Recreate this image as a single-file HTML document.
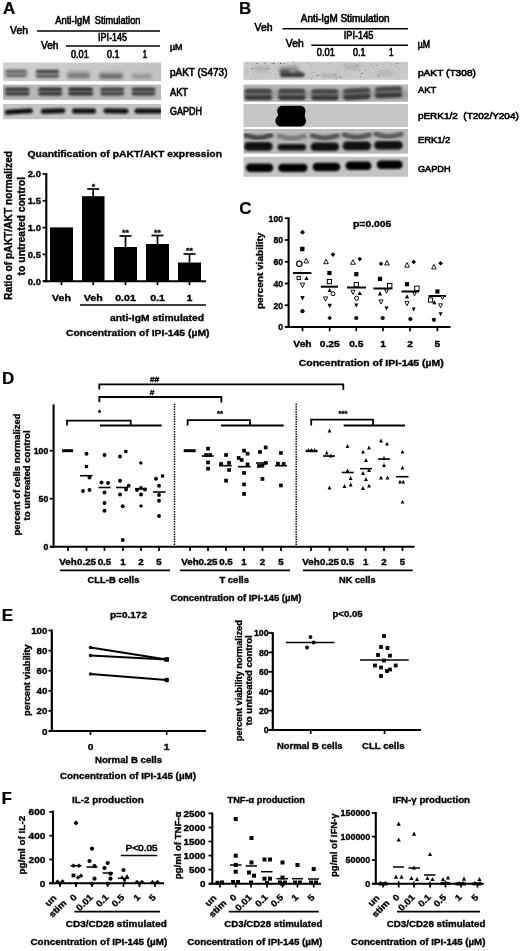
<!DOCTYPE html>
<html lang="en">
<head>
<meta charset="utf-8">
<title>IPI-145 figure</title>
<style>
html,body{margin:0;padding:0;background:#fff;}
body{width:520px;height:951px;overflow:hidden;}
svg{display:block;font-family:"Liberation Sans", Arial, Helvetica, sans-serif;}
</style>
</head>
<body>
<svg width="520" height="951" viewBox="0 0 520 951">
<defs>
<filter id="b1" x="-30%" y="-100%" width="160%" height="300%"><feGaussianBlur stdDeviation="0.9"/></filter>
<filter id="b2" x="-30%" y="-100%" width="160%" height="300%"><feGaussianBlur stdDeviation="1.6"/></filter>
<filter id="b05" x="-30%" y="-100%" width="160%" height="300%"><feGaussianBlur stdDeviation="0.6"/></filter>
<filter id="noise" x="0" y="0" width="100%" height="100%">
<feTurbulence type="fractalNoise" baseFrequency="0.6" numOctaves="1" seed="11" result="n"/>
<feColorMatrix in="n" type="matrix" values="0 0 0 0 0  0 0 0 0 0  0 0 0 0 0  -7 0 0 0 2.35" result="a"/>
<feTurbulence type="fractalNoise" baseFrequency="0.06" numOctaves="2" seed="3" result="m"/>
<feColorMatrix in="m" type="matrix" values="0 0 0 0 0  0 0 0 0 0  0 0 0 0 0  0 4 0 0 -1.2" result="mm"/>
<feComposite in="a" in2="mm" operator="in" result="c"/>
<feComposite in="SourceGraphic" in2="c" operator="in" result="d"/>
<feGaussianBlur in="d" stdDeviation="0.45"/>
</filter>
<linearGradient id="gA1" x1="0" x2="1" y1="0" y2="0"><stop offset="0" stop-color="#d0d0d0"/><stop offset="0.5" stop-color="#c9c9c9"/><stop offset="1" stop-color="#c2c2c2"/></linearGradient>
<clipPath id="cA1"><rect x="3" y="62.5" width="158" height="18.7"/></clipPath>
<clipPath id="cA2"><rect x="3" y="84.6" width="158" height="15.3"/></clipPath>
<clipPath id="cA3"><rect x="3" y="104" width="158" height="15.2"/></clipPath>
<clipPath id="cB1"><rect x="243.5" y="61.8" width="164.5" height="18"/></clipPath>
<clipPath id="cB2"><rect x="243.5" y="84.5" width="164.5" height="17.3"/></clipPath>
<clipPath id="cB3"><rect x="243.5" y="104" width="164.5" height="23"/></clipPath>
<clipPath id="cB4"><rect x="243.5" y="129" width="164.5" height="24.7"/></clipPath>
<clipPath id="cB5"><rect x="243.5" y="156.8" width="164.5" height="20"/></clipPath>
</defs>
<rect x="0" y="0" width="520" height="951" fill="#fff"/>
<g id="panelA">
<text x="3.1" y="13.5" font-size="17" font-weight="bold" stroke="#000" stroke-width="0.2">A</text>
<text x="10.0" y="33.7" font-size="10.20" stroke="#000" stroke-width="0.6" fill="#000" textLength="18.0" lengthAdjust="spacingAndGlyphs">Veh</text>
<text x="55.2" y="24.2" font-size="10.20" stroke="#000" stroke-width="0.6" fill="#000" textLength="35.0" lengthAdjust="spacingAndGlyphs">Anti-IgM</text>
<text x="94.8" y="24.2" font-size="10.20" stroke="#000" stroke-width="0.6" fill="#000" textLength="45.6" lengthAdjust="spacingAndGlyphs">Stimulation</text>
<line x1="37.0" y1="31.0" x2="160.0" y2="31.0" stroke="#000" stroke-width="1.4"/>
<text x="98.0" y="41.2" font-size="10.00" stroke="#000" stroke-width="0.6" fill="#000" textLength="29.0" lengthAdjust="spacingAndGlyphs">IPI-145</text>
<text x="41.0" y="48.7" font-size="10.20" stroke="#000" stroke-width="0.6" fill="#000" textLength="17.5" lengthAdjust="spacingAndGlyphs">Veh</text>
<line x1="66.0" y1="46.0" x2="160.0" y2="46.0" stroke="#000" stroke-width="1.4"/>
<text x="71.0" y="57.8" font-size="10.00" stroke="#000" stroke-width="0.6" fill="#000" textLength="17.7" lengthAdjust="spacingAndGlyphs">0.01</text>
<text x="107.0" y="57.8" font-size="10.00" stroke="#000" stroke-width="0.6" fill="#000" textLength="12.5" lengthAdjust="spacingAndGlyphs">0.1</text>
<text x="142.8" y="57.8" font-size="10.00" stroke="#000" stroke-width="0.6" fill="#000" textLength="4.4" lengthAdjust="spacingAndGlyphs">1</text>
<text x="170.0" y="49.5" font-size="9.80" stroke="#000" stroke-width="0.6" fill="#000" textLength="12.5" lengthAdjust="spacingAndGlyphs">µM</text>
<rect x="3" y="62.5" width="158" height="18.7" fill="url(#gA1)"/>
<g clip-path="url(#cA1)">
<rect x="4.7" y="69.3" width="23.0" height="8.5" rx="4.2" fill="#888" opacity="0.5" filter="url(#b2)"/>
<rect x="5.4" y="69.9" width="21.5" height="2.8" rx="1.4" fill="#484848" opacity="0.8" filter="url(#b1)"/>
<rect x="5.4" y="74.0" width="21.5" height="3.0" rx="1.5" fill="#555" opacity="0.7" filter="url(#b1)"/>
<rect x="35.5" y="69.5" width="24.0" height="9.0" rx="4.5" fill="#808080" opacity="0.55" filter="url(#b2)"/>
<rect x="36.0" y="70.0" width="23.0" height="3.0" rx="1.5" fill="#303030" opacity="0.88" filter="url(#b1)"/>
<rect x="36.0" y="74.4" width="23.0" height="3.2" rx="1.6" fill="#444" opacity="0.8" filter="url(#b1)"/>
<rect x="66.5" y="70.2" width="24.0" height="8.5" rx="4.2" fill="#888" opacity="0.5" filter="url(#b2)"/>
<rect x="67.5" y="73.8" width="22.0" height="4.0" rx="2.0" fill="#555" opacity="0.65" filter="url(#b2)"/>
<rect x="98.5" y="71.6" width="25.0" height="8.0" rx="4.0" fill="#888" opacity="0.5" filter="url(#b2)"/>
<rect x="99.5" y="74.3" width="23.0" height="4.0" rx="2.0" fill="#4a4a4a" opacity="0.7" filter="url(#b2)"/>
<rect x="131.5" y="73.0" width="21.0" height="6.0" rx="3.0" fill="#909090" opacity="0.45" filter="url(#b2)"/>
<rect x="133.0" y="75.3" width="18.0" height="2.6" rx="1.3" fill="#666" opacity="0.45" filter="url(#b2)"/>
</g>
<rect x="3.0" y="84.6" width="158.0" height="15.3" fill="#b7b7b7"/>
<g clip-path="url(#cA2)">
<rect x="4.9" y="87.8" width="24.5" height="8.5" rx="4.2" fill="#666" opacity="0.55" filter="url(#b1)"/>
<rect x="4.9" y="87.7" width="24.5" height="3.0" rx="1.5" fill="#242424" opacity="0.85" filter="url(#b1)"/>
<rect x="4.9" y="92.1" width="24.5" height="3.2" rx="1.6" fill="#303030" opacity="0.85" filter="url(#b1)"/>
<rect x="38.5" y="87.8" width="23.5" height="8.5" rx="4.2" fill="#666" opacity="0.55" filter="url(#b1)"/>
<rect x="38.5" y="87.7" width="23.5" height="3.0" rx="1.5" fill="#242424" opacity="0.92" filter="url(#b1)"/>
<rect x="38.5" y="92.1" width="23.5" height="3.2" rx="1.6" fill="#303030" opacity="0.92" filter="url(#b1)"/>
<rect x="68.5" y="87.8" width="24.5" height="8.5" rx="4.2" fill="#666" opacity="0.55" filter="url(#b1)"/>
<rect x="68.5" y="87.7" width="24.5" height="3.0" rx="1.5" fill="#242424" opacity="0.95" filter="url(#b1)"/>
<rect x="68.5" y="92.1" width="24.5" height="3.2" rx="1.6" fill="#303030" opacity="0.95" filter="url(#b1)"/>
<rect x="100.5" y="87.8" width="23.5" height="8.5" rx="4.2" fill="#666" opacity="0.55" filter="url(#b1)"/>
<rect x="100.5" y="87.7" width="23.5" height="3.0" rx="1.5" fill="#242424" opacity="0.75" filter="url(#b1)"/>
<rect x="100.5" y="92.1" width="23.5" height="3.2" rx="1.6" fill="#303030" opacity="0.75" filter="url(#b1)"/>
<rect x="131.8" y="87.8" width="23.5" height="8.5" rx="4.2" fill="#666" opacity="0.55" filter="url(#b1)"/>
<rect x="131.8" y="87.7" width="23.5" height="3.0" rx="1.5" fill="#242424" opacity="0.8" filter="url(#b1)"/>
<rect x="131.8" y="92.1" width="23.5" height="3.2" rx="1.6" fill="#303030" opacity="0.8" filter="url(#b1)"/>
</g>
<rect x="3.0" y="104.0" width="158.0" height="15.2" fill="#c3c3c3"/>
<g clip-path="url(#cA3)">
<rect x="4.8" y="109.1" width="28.0" height="5.0" rx="2.5" fill="#080808" opacity="0.98" filter="url(#b1)" transform="rotate(-3.5 18.8 111.6)"/>
<rect x="40.8" y="108.5" width="24.5" height="5.0" rx="2.5" fill="#080808" opacity="0.98" filter="url(#b1)" transform="rotate(-2 53.0 111.0)"/>
<rect x="72.0" y="108.5" width="24.0" height="5.0" rx="2.5" fill="#080808" opacity="0.98" filter="url(#b1)"/>
<rect x="103.5" y="108.5" width="25.0" height="5.0" rx="2.5" fill="#080808" opacity="0.98" filter="url(#b1)" transform="rotate(1 116.0 111.0)"/>
<rect x="134.5" y="108.6" width="28.0" height="5.0" rx="2.5" fill="#080808" opacity="0.98" filter="url(#b1)"/>
</g>
<text x="170.0" y="76.0" font-size="10.00" stroke="#000" stroke-width="0.6" fill="#000" textLength="57.5" lengthAdjust="spacingAndGlyphs">pAKT (S473)</text>
<text x="170.0" y="95.8" font-size="10.00" stroke="#000" stroke-width="0.6" fill="#000" textLength="18.0" lengthAdjust="spacingAndGlyphs">AKT</text>
<text x="170.0" y="114.5" font-size="10.00" stroke="#000" stroke-width="0.6" fill="#000" textLength="32.0" lengthAdjust="spacingAndGlyphs">GAPDH</text>
<text x="27.5" y="157.0" font-size="9.66" font-weight="bold" stroke="#000" stroke-width="0.35" fill="#000" textLength="194.5" lengthAdjust="spacingAndGlyphs">Quantification of pAKT/AKT expression</text>
<text transform="translate(12.4,225.4) rotate(-90)" font-size="10.8" font-weight="bold" stroke="#000" stroke-width="0.35" text-anchor="middle" textLength="149.0" lengthAdjust="spacingAndGlyphs">Ratio of pAKT/AKT normalized</text>
<text transform="translate(25.2,226.2) rotate(-90)" font-size="10.8" font-weight="bold" stroke="#000" stroke-width="0.35" text-anchor="middle" textLength="98.5" lengthAdjust="spacingAndGlyphs">to untreated control</text>
<line x1="46.3" y1="173.0" x2="46.3" y2="282.2" stroke="#000" stroke-width="2.1"/>
<line x1="43.0" y1="281.2" x2="206.0" y2="281.2" stroke="#000" stroke-width="2.1"/>
<line x1="42.5" y1="174.0" x2="46.0" y2="174.0" stroke="#000" stroke-width="1.7"/>
<text x="41.0" y="177.3" font-size="8.83" font-weight="bold" stroke="#000" stroke-width="0.35" text-anchor="end" textLength="13.2" lengthAdjust="spacingAndGlyphs">2.0</text>
<line x1="42.5" y1="200.8" x2="46.0" y2="200.8" stroke="#000" stroke-width="1.7"/>
<text x="41.0" y="204.1" font-size="8.83" font-weight="bold" stroke="#000" stroke-width="0.35" text-anchor="end" textLength="13.2" lengthAdjust="spacingAndGlyphs">1.5</text>
<line x1="42.5" y1="227.6" x2="46.0" y2="227.6" stroke="#000" stroke-width="1.7"/>
<text x="41.0" y="230.9" font-size="8.83" font-weight="bold" stroke="#000" stroke-width="0.35" text-anchor="end" textLength="13.2" lengthAdjust="spacingAndGlyphs">1.0</text>
<line x1="42.5" y1="254.4" x2="46.0" y2="254.4" stroke="#000" stroke-width="1.7"/>
<text x="41.0" y="257.7" font-size="8.83" font-weight="bold" stroke="#000" stroke-width="0.35" text-anchor="end" textLength="13.2" lengthAdjust="spacingAndGlyphs">0.5</text>
<line x1="42.5" y1="281.2" x2="46.0" y2="281.2" stroke="#000" stroke-width="1.7"/>
<text x="41.0" y="284.5" font-size="8.83" font-weight="bold" stroke="#000" stroke-width="0.35" text-anchor="end" textLength="13.2" lengthAdjust="spacingAndGlyphs">0.0</text>
<rect x="50.0" y="227.4" width="23.0" height="53.8" fill="#000"/>
<line x1="61.5" y1="281.2" x2="61.5" y2="285.2" stroke="#000" stroke-width="1.7"/>
<rect x="82.0" y="196.2" width="22.5" height="85.0" fill="#000"/>
<line x1="93.2" y1="281.2" x2="93.2" y2="285.2" stroke="#000" stroke-width="1.7"/>
<line x1="93.2" y1="189.0" x2="93.2" y2="196.2" stroke="#000" stroke-width="1.7"/>
<line x1="87.2" y1="189.0" x2="99.2" y2="189.0" stroke="#000" stroke-width="1.7"/>
<rect x="114.0" y="247.0" width="23.0" height="34.2" fill="#000"/>
<line x1="125.5" y1="281.2" x2="125.5" y2="285.2" stroke="#000" stroke-width="1.7"/>
<line x1="125.5" y1="236.0" x2="125.5" y2="247.0" stroke="#000" stroke-width="1.7"/>
<line x1="119.5" y1="236.0" x2="131.5" y2="236.0" stroke="#000" stroke-width="1.7"/>
<rect x="146.0" y="244.0" width="23.0" height="37.2" fill="#000"/>
<line x1="157.5" y1="281.2" x2="157.5" y2="285.2" stroke="#000" stroke-width="1.7"/>
<line x1="157.5" y1="235.5" x2="157.5" y2="244.0" stroke="#000" stroke-width="1.7"/>
<line x1="151.5" y1="235.5" x2="163.5" y2="235.5" stroke="#000" stroke-width="1.7"/>
<rect x="178.0" y="262.5" width="23.0" height="18.7" fill="#000"/>
<line x1="189.5" y1="281.2" x2="189.5" y2="285.2" stroke="#000" stroke-width="1.7"/>
<line x1="189.5" y1="254.0" x2="189.5" y2="262.5" stroke="#000" stroke-width="1.7"/>
<line x1="183.5" y1="254.0" x2="195.5" y2="254.0" stroke="#000" stroke-width="1.7"/>
<text x="93.5" y="189.3" font-size="7.82" font-weight="bold" stroke="#000" stroke-width="0.35" text-anchor="middle" textLength="3.4" lengthAdjust="spacingAndGlyphs">*</text>
<text x="125.5" y="234.8" font-size="7.82" font-weight="bold" stroke="#000" stroke-width="0.35" text-anchor="middle" textLength="6.8" lengthAdjust="spacingAndGlyphs">**</text>
<text x="157.5" y="234.8" font-size="7.82" font-weight="bold" stroke="#000" stroke-width="0.35" text-anchor="middle" textLength="6.8" lengthAdjust="spacingAndGlyphs">**</text>
<text x="189.5" y="252.8" font-size="7.82" font-weight="bold" stroke="#000" stroke-width="0.35" text-anchor="middle" textLength="6.8" lengthAdjust="spacingAndGlyphs">**</text>
<text x="61.5" y="300.8" font-size="9.48" font-weight="bold" stroke="#000" stroke-width="0.35" text-anchor="middle" textLength="18.9" lengthAdjust="spacingAndGlyphs">Veh</text>
<text x="93.2" y="300.8" font-size="9.48" font-weight="bold" stroke="#000" stroke-width="0.35" text-anchor="middle" textLength="18.9" lengthAdjust="spacingAndGlyphs">Veh</text>
<text x="125.5" y="300.8" font-size="9.48" font-weight="bold" stroke="#000" stroke-width="0.35" text-anchor="middle" textLength="20.6" lengthAdjust="spacingAndGlyphs">0.01</text>
<text x="157.5" y="300.8" font-size="9.48" font-weight="bold" stroke="#000" stroke-width="0.35" text-anchor="middle" textLength="14.7" lengthAdjust="spacingAndGlyphs">0.1</text>
<text x="189.5" y="300.8" font-size="9.48" font-weight="bold" stroke="#000" stroke-width="0.35" text-anchor="middle" textLength="5.9" lengthAdjust="spacingAndGlyphs">1</text>
<line x1="80.0" y1="305.0" x2="206.0" y2="305.0" stroke="#000" stroke-width="1.7"/>
<text x="110.0" y="320.8" font-size="9.48" font-weight="bold" stroke="#000" stroke-width="0.35" fill="#000" textLength="94.0" lengthAdjust="spacingAndGlyphs">anti-IgM stimulated</text>
<text x="66.0" y="336.3" font-size="9.48" font-weight="bold" stroke="#000" stroke-width="0.35" fill="#000" textLength="143.5" lengthAdjust="spacingAndGlyphs">Concentration of IPI-145 (µM)</text>
</g>
<g id="panelB">
<text x="239.0" y="13.7" font-size="17" font-weight="bold" stroke="#000" stroke-width="0.2">B</text>
<text x="254.6" y="31.2" font-size="10.20" stroke="#000" stroke-width="0.6" fill="#000" textLength="17.9" lengthAdjust="spacingAndGlyphs">Veh</text>
<text x="300.8" y="21.9" font-size="10.30" stroke="#000" stroke-width="0.6" fill="#000" textLength="88.7" lengthAdjust="spacingAndGlyphs">Anti-IgM Stimulation</text>
<line x1="282.5" y1="28.8" x2="408.0" y2="28.8" stroke="#000" stroke-width="1.4"/>
<text x="343.7" y="39.4" font-size="10.30" stroke="#000" stroke-width="0.6" fill="#000" textLength="29.8" lengthAdjust="spacingAndGlyphs">IPI-145</text>
<text x="285.8" y="46.9" font-size="10.20" stroke="#000" stroke-width="0.6" fill="#000" textLength="17.9" lengthAdjust="spacingAndGlyphs">Veh</text>
<line x1="311.3" y1="45.3" x2="408.0" y2="45.3" stroke="#000" stroke-width="1.4"/>
<text x="316.8" y="55.6" font-size="10.00" stroke="#000" stroke-width="0.6" fill="#000" textLength="18.0" lengthAdjust="spacingAndGlyphs">0.01</text>
<text x="353.0" y="55.6" font-size="10.00" stroke="#000" stroke-width="0.6" fill="#000" textLength="12.5" lengthAdjust="spacingAndGlyphs">0.1</text>
<text x="389.0" y="55.6" font-size="10.00" stroke="#000" stroke-width="0.6" fill="#000" textLength="4.5" lengthAdjust="spacingAndGlyphs">1</text>
<text x="417.7" y="48.3" font-size="10.00" stroke="#000" stroke-width="0.6" fill="#000" textLength="12.3" lengthAdjust="spacingAndGlyphs">µM</text>
<rect x="243.5" y="61.8" width="164.5" height="18.0" fill="#c9c9c9"/>
<g clip-path="url(#cB1)">
<rect x="243" y="61" width="165" height="19" fill="#222" filter="url(#noise)" opacity="0.85"/>
<rect x="279.0" y="66.5" width="20.0" height="8.0" rx="4.0" fill="#555" opacity="0.5" filter="url(#b2)"/>
<rect x="280.2" y="72.7" width="24.5" height="4.6" rx="2.3" fill="#262626" opacity="0.85" filter="url(#b1)"/>
<rect x="280.0" y="69.8" width="10.0" height="4.0" rx="2.0" fill="#333" opacity="0.6" filter="url(#b1)"/>
<rect x="295.5" y="71.1" width="7.0" height="3.0" rx="1.5" fill="#333" opacity="0.5" filter="url(#b1)"/>
<rect x="321.0" y="74.0" width="18.0" height="3.0" rx="1.5" fill="#777" opacity="0.35" filter="url(#b2)"/>
<rect x="255.0" y="66.0" width="14.0" height="6.0" rx="3.0" fill="#888" opacity="0.3" filter="url(#b2)"/>
<rect x="344.0" y="64.0" width="16.0" height="6.0" rx="3.0" fill="#888" opacity="0.3" filter="url(#b2)"/>
<rect x="377.0" y="70.0" width="16.0" height="6.0" rx="3.0" fill="#888" opacity="0.25" filter="url(#b2)"/>
</g>
<rect x="243.5" y="84.5" width="164.5" height="17.3" fill="#b6b6b6"/>
<g clip-path="url(#cB2)">
<rect x="240.0" y="89.9" width="170.0" height="9.0" rx="4.5" fill="#777" opacity="0.35" filter="url(#b2)"/>
<rect x="244.4" y="88.8" width="28.0" height="11.0" rx="5.5" fill="#606060" opacity="0.6" filter="url(#b1)"/>
<rect x="245.1" y="89.1" width="26.5" height="4.2" rx="2.1" fill="#383838" opacity="0.82" filter="url(#b1)"/>
<rect x="244.9" y="95.2" width="27.0" height="4.8" rx="2.4" fill="#2e2e2e" opacity="0.86" filter="url(#b1)"/>
<rect x="277.9" y="88.8" width="28.0" height="11.0" rx="5.5" fill="#606060" opacity="0.6" filter="url(#b1)"/>
<rect x="278.6" y="89.1" width="26.5" height="4.2" rx="2.1" fill="#383838" opacity="0.82" filter="url(#b1)"/>
<rect x="278.4" y="95.2" width="27.0" height="4.8" rx="2.4" fill="#2e2e2e" opacity="0.86" filter="url(#b1)"/>
<rect x="310.8" y="89.1" width="28.0" height="11.0" rx="5.5" fill="#606060" opacity="0.6" filter="url(#b1)"/>
<rect x="311.6" y="89.4" width="26.5" height="4.2" rx="2.1" fill="#383838" opacity="0.82" filter="url(#b1)"/>
<rect x="311.3" y="95.5" width="27.0" height="4.8" rx="2.4" fill="#2e2e2e" opacity="0.86" filter="url(#b1)"/>
<rect x="342.8" y="88.2" width="28.0" height="11.0" rx="5.5" fill="#606060" opacity="0.6" filter="url(#b1)" transform="rotate(-3 356.8 93.7)"/>
<rect x="343.6" y="88.5" width="26.5" height="4.2" rx="2.1" fill="#383838" opacity="0.82" filter="url(#b1)" transform="rotate(-3 356.8 90.6)"/>
<rect x="343.3" y="94.6" width="27.0" height="4.8" rx="2.4" fill="#2e2e2e" opacity="0.86" filter="url(#b1)" transform="rotate(-3 356.8 97.0)"/>
<rect x="374.5" y="86.6" width="28.0" height="11.0" rx="5.5" fill="#606060" opacity="0.6" filter="url(#b1)" transform="rotate(-2 388.5 92.1)"/>
<rect x="375.2" y="86.9" width="26.5" height="4.2" rx="2.1" fill="#383838" opacity="0.82" filter="url(#b1)" transform="rotate(-2 388.5 89.0)"/>
<rect x="375.0" y="93.0" width="27.0" height="4.8" rx="2.4" fill="#2e2e2e" opacity="0.86" filter="url(#b1)" transform="rotate(-2 388.5 95.4)"/>
</g>
<rect x="243.5" y="104.0" width="164.5" height="23.0" fill="#c6c6c6"/>
<g clip-path="url(#cB3)">
<rect x="277.2" y="105.8" width="28.2" height="10.8" rx="5.0" fill="#050505" filter="url(#b05)"/>
<rect x="275.4" y="115.0" width="30.6" height="11.6" rx="5.6" fill="#050505" filter="url(#b05)"/>
<rect x="278.0" y="110" width="26.8" height="12" fill="#050505" filter="url(#b05)"/>
</g>
<rect x="243.5" y="129.0" width="164.5" height="24.7" fill="#b9b9b9"/>
<g clip-path="url(#cB4)">
<path d="M245.9,135.4 Q258.4,140.0 270.9,135.4" stroke="#3c3c3c" stroke-width="5.0" stroke-linecap="round" fill="none" opacity="0.9" filter="url(#b1)"/>
<rect x="244.1" y="142.1" width="28.5" height="8.6" rx="4.3" fill="#080808" opacity="0.98" filter="url(#b1)"/>
<path d="M279.4,136.2 Q291.9,140.8 304.4,136.2" stroke="#3c3c3c" stroke-width="5.0" stroke-linecap="round" fill="none" opacity="0.5" filter="url(#b1)"/>
<rect x="277.6" y="143.9" width="28.5" height="6.6" rx="3.3" fill="#080808" opacity="0.98" filter="url(#b1)"/>
<path d="M312.3,135.7 Q324.8,140.3 337.3,135.7" stroke="#3c3c3c" stroke-width="5.0" stroke-linecap="round" fill="none" opacity="0.8" filter="url(#b1)"/>
<rect x="310.6" y="142.4" width="28.5" height="8.6" rx="4.3" fill="#080808" opacity="0.98" filter="url(#b1)"/>
<path d="M344.3,134.9 Q356.8,139.5 369.3,134.9" stroke="#3c3c3c" stroke-width="5.0" stroke-linecap="round" fill="none" opacity="0.8" filter="url(#b1)"/>
<rect x="342.6" y="141.6" width="28.5" height="8.6" rx="4.3" fill="#080808" opacity="0.98" filter="url(#b1)"/>
<path d="M376.0,134.2 Q388.5,138.8 401.0,134.2" stroke="#3c3c3c" stroke-width="5.0" stroke-linecap="round" fill="none" opacity="0.75" filter="url(#b1)"/>
<rect x="374.2" y="140.9" width="28.5" height="8.6" rx="4.3" fill="#080808" opacity="0.98" filter="url(#b1)"/>
</g>
<rect x="243.5" y="156.8" width="164.5" height="20.0" fill="#c4c4c4"/>
<g clip-path="url(#cB5)">
<rect x="245.8" y="163.5" width="27.5" height="8.4" rx="4.2" fill="#050505" opacity="0.99" filter="url(#b1)"/>
<rect x="278.1" y="163.7" width="29.5" height="8.4" rx="4.2" fill="#050505" opacity="0.99" filter="url(#b1)"/>
<rect x="312.6" y="162.8" width="27.7" height="8.4" rx="4.2" fill="#050505" opacity="0.99" filter="url(#b1)"/>
<rect x="345.5" y="161.5" width="26.0" height="8.4" rx="4.2" fill="#050505" opacity="0.99" filter="url(#b1)"/>
<rect x="376.7" y="160.5" width="26.0" height="8.4" rx="4.2" fill="#050505" opacity="0.99" filter="url(#b1)"/>
</g>
<text x="417.9" y="76.0" font-size="9.60" stroke="#000" stroke-width="0.6" fill="#000" textLength="58.1" lengthAdjust="spacingAndGlyphs">pAKT (T308)</text>
<text x="417.9" y="93.3" font-size="9.60" stroke="#000" stroke-width="0.6" fill="#000" textLength="18.4" lengthAdjust="spacingAndGlyphs">AKT</text>
<text x="417.9" y="119.4" font-size="9.60" stroke="#000" stroke-width="0.6" fill="#000" textLength="100.9" lengthAdjust="spacingAndGlyphs" style="white-space:pre">pERK1/2  (T202/Y204)</text>
<text x="417.9" y="143.2" font-size="9.60" stroke="#000" stroke-width="0.6" fill="#000" textLength="32.3" lengthAdjust="spacingAndGlyphs">ERK1/2</text>
<text x="417.9" y="171.5" font-size="9.60" stroke="#000" stroke-width="0.6" fill="#000" textLength="32.7" lengthAdjust="spacingAndGlyphs">GAPDH</text>
</g>
<g id="panelC">
<text x="239.2" y="214.3" font-size="17" font-weight="bold" stroke="#000" stroke-width="0.2">C</text>
<text transform="translate(262.6,270.8) rotate(-90)" font-size="9.2" font-weight="bold" stroke="#000" stroke-width="0.35" text-anchor="middle" textLength="76.5" lengthAdjust="spacingAndGlyphs">percent viability</text>
<line x1="288.6" y1="217.3" x2="288.6" y2="328.0" stroke="#000" stroke-width="2.1"/>
<line x1="285.5" y1="327.0" x2="450.5" y2="327.0" stroke="#000" stroke-width="2.1"/>
<line x1="284.8" y1="327.0" x2="288.5" y2="327.0" stroke="#000" stroke-width="1.7"/>
<text x="283.0" y="330.3" font-size="8.74" font-weight="bold" stroke="#000" stroke-width="0.35" text-anchor="end" textLength="4.8" lengthAdjust="spacingAndGlyphs">0</text>
<line x1="284.8" y1="305.2" x2="288.5" y2="305.2" stroke="#000" stroke-width="1.7"/>
<text x="283.0" y="308.6" font-size="8.74" font-weight="bold" stroke="#000" stroke-width="0.35" text-anchor="end" textLength="9.6" lengthAdjust="spacingAndGlyphs">20</text>
<line x1="284.8" y1="283.5" x2="288.5" y2="283.5" stroke="#000" stroke-width="1.7"/>
<text x="283.0" y="286.8" font-size="8.74" font-weight="bold" stroke="#000" stroke-width="0.35" text-anchor="end" textLength="9.6" lengthAdjust="spacingAndGlyphs">40</text>
<line x1="284.8" y1="261.8" x2="288.5" y2="261.8" stroke="#000" stroke-width="1.7"/>
<text x="283.0" y="265.1" font-size="8.74" font-weight="bold" stroke="#000" stroke-width="0.35" text-anchor="end" textLength="9.6" lengthAdjust="spacingAndGlyphs">60</text>
<line x1="284.8" y1="240.0" x2="288.5" y2="240.0" stroke="#000" stroke-width="1.7"/>
<text x="283.0" y="243.3" font-size="8.74" font-weight="bold" stroke="#000" stroke-width="0.35" text-anchor="end" textLength="9.6" lengthAdjust="spacingAndGlyphs">80</text>
<line x1="284.8" y1="218.2" x2="288.5" y2="218.2" stroke="#000" stroke-width="1.7"/>
<text x="283.0" y="221.6" font-size="8.74" font-weight="bold" stroke="#000" stroke-width="0.35" text-anchor="end" textLength="14.4" lengthAdjust="spacingAndGlyphs">100</text>
<line x1="302.5" y1="327.0" x2="302.5" y2="331.2" stroke="#000" stroke-width="1.7"/>
<text x="302.5" y="346.7" font-size="9.20" font-weight="bold" stroke="#000" stroke-width="0.35" text-anchor="middle" textLength="18.3" lengthAdjust="spacingAndGlyphs">Veh</text>
<line x1="329.7" y1="327.0" x2="329.7" y2="331.2" stroke="#000" stroke-width="1.7"/>
<text x="329.7" y="346.7" font-size="9.20" font-weight="bold" stroke="#000" stroke-width="0.35" text-anchor="middle" textLength="20.0" lengthAdjust="spacingAndGlyphs">0.25</text>
<line x1="356.3" y1="327.0" x2="356.3" y2="331.2" stroke="#000" stroke-width="1.7"/>
<text x="356.3" y="346.7" font-size="9.20" font-weight="bold" stroke="#000" stroke-width="0.35" text-anchor="middle" textLength="14.3" lengthAdjust="spacingAndGlyphs">0.5</text>
<line x1="383.0" y1="327.0" x2="383.0" y2="331.2" stroke="#000" stroke-width="1.7"/>
<text x="383.0" y="346.7" font-size="9.20" font-weight="bold" stroke="#000" stroke-width="0.35" text-anchor="middle" textLength="5.7" lengthAdjust="spacingAndGlyphs">1</text>
<line x1="410.0" y1="327.0" x2="410.0" y2="331.2" stroke="#000" stroke-width="1.7"/>
<text x="410.0" y="346.7" font-size="9.20" font-weight="bold" stroke="#000" stroke-width="0.35" text-anchor="middle" textLength="5.7" lengthAdjust="spacingAndGlyphs">2</text>
<line x1="437.4" y1="327.0" x2="437.4" y2="331.2" stroke="#000" stroke-width="1.7"/>
<text x="437.4" y="346.7" font-size="9.20" font-weight="bold" stroke="#000" stroke-width="0.35" text-anchor="middle" textLength="5.7" lengthAdjust="spacingAndGlyphs">5</text>
<text x="298.7" y="365.6" font-size="9.20" font-weight="bold" stroke="#000" stroke-width="0.35" fill="#000" textLength="145.1" lengthAdjust="spacingAndGlyphs">Concentration of IPI-145 (µM)</text>
<text x="353.0" y="227.0" font-size="9.20" font-weight="bold" stroke="#000" stroke-width="0.35" fill="#000" textLength="38.3" lengthAdjust="spacingAndGlyphs">p=0.005</text>
<line x1="293.0" y1="273.0" x2="311.4" y2="273.0" stroke="#000" stroke-width="2.0"/>
<line x1="320.8" y1="286.7" x2="338.0" y2="286.7" stroke="#000" stroke-width="2.0"/>
<line x1="347.0" y1="287.5" x2="366.0" y2="287.5" stroke="#000" stroke-width="2.0"/>
<line x1="373.5" y1="288.5" x2="392.4" y2="288.5" stroke="#000" stroke-width="2.0"/>
<line x1="401.5" y1="291.5" x2="419.2" y2="291.5" stroke="#000" stroke-width="2.0"/>
<line x1="428.5" y1="296.0" x2="446.0" y2="296.0" stroke="#000" stroke-width="2.0"/>
<polygon points="302.5,229.8 305.0,232.3 302.5,234.8 300.0,232.3" fill="#000"/>
<rect x="300.1" y="246.8" width="4.4" height="4.4" fill="#000"/>
<polygon points="306.2,258.3 308.5,262.9 303.9,262.9" fill="#fff" stroke="#000" stroke-width="0.9"/>
<circle cx="299.3" cy="263.8" r="2.7" fill="#fff" stroke="#000" stroke-width="1.1"/>
<rect x="297.1" y="276.4" width="3.2" height="3.2" fill="#fff" stroke="#000" stroke-width="1.0"/>
<polygon points="306.5,275.9 308.6,280.1 304.4,280.1" fill="#000"/>
<polygon points="302.5,287.5 304.7,283.1 300.3,283.1" fill="#fff" stroke="#000" stroke-width="0.9"/>
<polygon points="302.5,300.5 304.7,296.1 300.3,296.1" fill="#000"/>
<circle cx="302.5" cy="311.2" r="2.1" fill="#000"/>
<polygon points="333.0,252.3 335.3,254.6 333.0,256.9 330.7,254.6" fill="#000"/>
<polygon points="326.0,259.1 328.3,263.7 323.7,263.7" fill="#fff" stroke="#000" stroke-width="0.9"/>
<rect x="327.3" y="270.9" width="4.2" height="4.2" fill="#000"/>
<rect x="327.3" y="279.5" width="4.2" height="4.2" fill="#fff" stroke="#000" stroke-width="1.0"/>
<polygon points="329.7,287.9 331.8,292.1 327.6,292.1" fill="#000"/>
<circle cx="333.0" cy="293.7" r="2.0" fill="#fff" stroke="#000" stroke-width="1.0"/>
<polygon points="325.6,301.1 327.7,296.9 323.5,296.9" fill="#fff" stroke="#000" stroke-width="0.9"/>
<polygon points="329.7,308.2 331.9,303.8 327.5,303.8" fill="#000"/>
<polygon points="329.7,315.7 332.0,318.0 329.7,320.3 327.4,318.0" fill="#000"/>
<polygon points="359.8,256.7 362.1,259.0 359.8,261.3 357.5,259.0" fill="#000"/>
<polygon points="353.0,259.7 355.3,264.3 350.7,264.3" fill="#fff" stroke="#000" stroke-width="0.9"/>
<rect x="354.2" y="272.1" width="4.2" height="4.2" fill="#000"/>
<rect x="354.2" y="282.5" width="4.2" height="4.2" fill="#fff" stroke="#000" stroke-width="1.0"/>
<polygon points="353.0,294.4 355.1,290.2 350.9,290.2" fill="#fff" stroke="#000" stroke-width="0.9"/>
<polygon points="359.8,290.9 361.9,295.1 357.7,295.1" fill="#000"/>
<circle cx="356.6" cy="298.2" r="2.0" fill="#fff" stroke="#000" stroke-width="1.0"/>
<polygon points="356.3,307.6 358.4,303.4 354.2,303.4" fill="#000"/>
<circle cx="356.3" cy="318.0" r="2.1" fill="#000"/>
<polygon points="381.0,261.5 383.3,263.8 381.0,266.1 378.7,263.8" fill="#000"/>
<polygon points="387.0,260.4 389.3,265.0 384.7,265.0" fill="#fff" stroke="#000" stroke-width="0.9"/>
<rect x="377.9" y="276.8" width="4.2" height="4.2" fill="#000"/>
<rect x="387.5" y="283.5" width="4.4" height="4.4" fill="#fff" stroke="#000" stroke-width="1.0"/>
<polygon points="380.0,291.3 382.1,295.5 377.9,295.5" fill="#000"/>
<polygon points="386.5,293.3 388.3,289.7 384.7,289.7" fill="#fff" stroke="#000" stroke-width="0.9"/>
<polygon points="381.0,304.1 383.1,299.9 378.9,299.9" fill="#fff" stroke="#000" stroke-width="0.9"/>
<polygon points="386.5,310.5 388.5,306.5 384.5,306.5" fill="#000"/>
<circle cx="382.7" cy="318.0" r="2.1" fill="#000"/>
<polygon points="407.0,262.6 409.3,267.2 404.7,267.2" fill="#fff" stroke="#000" stroke-width="0.9"/>
<polygon points="413.7,259.6 416.0,261.9 413.7,264.2 411.4,261.9" fill="#000"/>
<rect x="404.9" y="282.1" width="4.2" height="4.2" fill="#000"/>
<rect x="414.7" y="286.1" width="4.4" height="4.4" fill="#fff" stroke="#000" stroke-width="1.0"/>
<polygon points="407.0,294.3 409.1,298.5 404.9,298.5" fill="#000"/>
<polygon points="414.5,295.9 416.2,292.5 412.8,292.5" fill="#fff" stroke="#000" stroke-width="0.9"/>
<polygon points="407.0,305.8 409.1,301.6 404.9,301.6" fill="#fff" stroke="#000" stroke-width="0.9"/>
<polygon points="413.7,311.6 415.7,307.6 411.7,307.6" fill="#000"/>
<circle cx="410.4" cy="319.0" r="2.1" fill="#000"/>
<polygon points="433.9,264.4 436.2,269.0 431.6,269.0" fill="#fff" stroke="#000" stroke-width="0.9"/>
<polygon points="440.6,260.9 442.9,263.2 440.6,265.5 438.3,263.2" fill="#000"/>
<rect x="435.3" y="289.4" width="4.2" height="4.2" fill="#000"/>
<rect x="428.5" y="297.9" width="4.2" height="4.2" fill="#fff" stroke="#000" stroke-width="1.0"/>
<polygon points="434.4,300.3 436.4,304.3 432.4,304.3" fill="#000"/>
<polygon points="442.5,299.4 444.2,296.0 440.8,296.0" fill="#fff" stroke="#000" stroke-width="0.9"/>
<polygon points="440.6,307.8 442.6,303.8 438.6,303.8" fill="#fff" stroke="#000" stroke-width="0.9"/>
<polygon points="440.6,316.2 442.6,312.2 438.6,312.2" fill="#000"/>
<circle cx="433.9" cy="319.8" r="2.1" fill="#000"/>
</g>
<g id="panelD">
<text x="1.9" y="384.1" font-size="17" font-weight="bold" stroke="#000" stroke-width="0.2">D</text>
<text transform="translate(19.9,474.5) rotate(-90)" font-size="8.7" font-weight="bold" stroke="#000" stroke-width="0.35" text-anchor="middle" textLength="122.0" lengthAdjust="spacingAndGlyphs">percent of cells normalized</text>
<text transform="translate(30.3,475.4) rotate(-90)" font-size="8.7" font-weight="bold" stroke="#000" stroke-width="0.35" text-anchor="middle" textLength="90.0" lengthAdjust="spacingAndGlyphs">to untreated control</text>
<line x1="53.6" y1="404.5" x2="53.6" y2="547.7" stroke="#000" stroke-width="2.1"/>
<line x1="50.0" y1="546.7" x2="414.6" y2="546.7" stroke="#000" stroke-width="2.0"/>
<line x1="49.8" y1="450.7" x2="53.6" y2="450.7" stroke="#000" stroke-width="1.7"/>
<text x="48.3" y="453.9" font-size="8.83" font-weight="bold" stroke="#000" stroke-width="0.35" text-anchor="end" textLength="14.6" lengthAdjust="spacingAndGlyphs">100</text>
<line x1="49.8" y1="498.7" x2="53.6" y2="498.7" stroke="#000" stroke-width="1.7"/>
<text x="48.3" y="501.9" font-size="8.83" font-weight="bold" stroke="#000" stroke-width="0.35" text-anchor="end" textLength="9.7" lengthAdjust="spacingAndGlyphs">50</text>
<line x1="49.8" y1="546.7" x2="53.6" y2="546.7" stroke="#000" stroke-width="1.7"/>
<text x="48.3" y="549.9" font-size="8.83" font-weight="bold" stroke="#000" stroke-width="0.35" text-anchor="end" textLength="4.9" lengthAdjust="spacingAndGlyphs">0</text>
<line x1="68.0" y1="546.7" x2="68.0" y2="551.0" stroke="#000" stroke-width="1.7"/>
<text x="68.0" y="564.6" font-size="8.74" font-weight="bold" stroke="#000" stroke-width="0.35" text-anchor="middle" textLength="17.4" lengthAdjust="spacingAndGlyphs">Veh</text>
<line x1="86.5" y1="546.7" x2="86.5" y2="551.0" stroke="#000" stroke-width="1.7"/>
<text x="86.5" y="564.6" font-size="8.74" font-weight="bold" stroke="#000" stroke-width="0.35" text-anchor="middle" textLength="19.0" lengthAdjust="spacingAndGlyphs">0.25</text>
<line x1="104.5" y1="546.7" x2="104.5" y2="551.0" stroke="#000" stroke-width="1.7"/>
<text x="104.5" y="564.6" font-size="8.74" font-weight="bold" stroke="#000" stroke-width="0.35" text-anchor="middle" textLength="13.6" lengthAdjust="spacingAndGlyphs">0.5</text>
<line x1="123.0" y1="546.7" x2="123.0" y2="551.0" stroke="#000" stroke-width="1.7"/>
<text x="123.0" y="564.6" font-size="8.74" font-weight="bold" stroke="#000" stroke-width="0.35" text-anchor="middle" textLength="5.4" lengthAdjust="spacingAndGlyphs">1</text>
<line x1="141.0" y1="546.7" x2="141.0" y2="551.0" stroke="#000" stroke-width="1.7"/>
<text x="141.0" y="564.6" font-size="8.74" font-weight="bold" stroke="#000" stroke-width="0.35" text-anchor="middle" textLength="5.4" lengthAdjust="spacingAndGlyphs">2</text>
<line x1="159.0" y1="546.7" x2="159.0" y2="551.0" stroke="#000" stroke-width="1.7"/>
<text x="159.0" y="564.6" font-size="8.74" font-weight="bold" stroke="#000" stroke-width="0.35" text-anchor="middle" textLength="5.4" lengthAdjust="spacingAndGlyphs">5</text>
<line x1="190.0" y1="546.7" x2="190.0" y2="551.0" stroke="#000" stroke-width="1.7"/>
<text x="190.0" y="564.6" font-size="8.74" font-weight="bold" stroke="#000" stroke-width="0.35" text-anchor="middle" textLength="17.4" lengthAdjust="spacingAndGlyphs">Veh</text>
<line x1="208.0" y1="546.7" x2="208.0" y2="551.0" stroke="#000" stroke-width="1.7"/>
<text x="208.0" y="564.6" font-size="8.74" font-weight="bold" stroke="#000" stroke-width="0.35" text-anchor="middle" textLength="19.0" lengthAdjust="spacingAndGlyphs">0.25</text>
<line x1="226.0" y1="546.7" x2="226.0" y2="551.0" stroke="#000" stroke-width="1.7"/>
<text x="226.0" y="564.6" font-size="8.74" font-weight="bold" stroke="#000" stroke-width="0.35" text-anchor="middle" textLength="13.6" lengthAdjust="spacingAndGlyphs">0.5</text>
<line x1="244.0" y1="546.7" x2="244.0" y2="551.0" stroke="#000" stroke-width="1.7"/>
<text x="244.0" y="564.6" font-size="8.74" font-weight="bold" stroke="#000" stroke-width="0.35" text-anchor="middle" textLength="5.4" lengthAdjust="spacingAndGlyphs">1</text>
<line x1="262.5" y1="546.7" x2="262.5" y2="551.0" stroke="#000" stroke-width="1.7"/>
<text x="262.5" y="564.6" font-size="8.74" font-weight="bold" stroke="#000" stroke-width="0.35" text-anchor="middle" textLength="5.4" lengthAdjust="spacingAndGlyphs">2</text>
<line x1="281.0" y1="546.7" x2="281.0" y2="551.0" stroke="#000" stroke-width="1.7"/>
<text x="281.0" y="564.6" font-size="8.74" font-weight="bold" stroke="#000" stroke-width="0.35" text-anchor="middle" textLength="5.4" lengthAdjust="spacingAndGlyphs">5</text>
<line x1="311.0" y1="546.7" x2="311.0" y2="551.0" stroke="#000" stroke-width="1.7"/>
<text x="311.0" y="564.6" font-size="8.74" font-weight="bold" stroke="#000" stroke-width="0.35" text-anchor="middle" textLength="17.4" lengthAdjust="spacingAndGlyphs">Veh</text>
<line x1="329.5" y1="546.7" x2="329.5" y2="551.0" stroke="#000" stroke-width="1.7"/>
<text x="329.5" y="564.6" font-size="8.74" font-weight="bold" stroke="#000" stroke-width="0.35" text-anchor="middle" textLength="19.0" lengthAdjust="spacingAndGlyphs">0.25</text>
<line x1="347.5" y1="546.7" x2="347.5" y2="551.0" stroke="#000" stroke-width="1.7"/>
<text x="347.5" y="564.6" font-size="8.74" font-weight="bold" stroke="#000" stroke-width="0.35" text-anchor="middle" textLength="13.6" lengthAdjust="spacingAndGlyphs">0.5</text>
<line x1="365.7" y1="546.7" x2="365.7" y2="551.0" stroke="#000" stroke-width="1.7"/>
<text x="365.7" y="564.6" font-size="8.74" font-weight="bold" stroke="#000" stroke-width="0.35" text-anchor="middle" textLength="5.4" lengthAdjust="spacingAndGlyphs">1</text>
<line x1="384.0" y1="546.7" x2="384.0" y2="551.0" stroke="#000" stroke-width="1.7"/>
<text x="384.0" y="564.6" font-size="8.74" font-weight="bold" stroke="#000" stroke-width="0.35" text-anchor="middle" textLength="5.4" lengthAdjust="spacingAndGlyphs">2</text>
<line x1="402.5" y1="546.7" x2="402.5" y2="551.0" stroke="#000" stroke-width="1.7"/>
<text x="402.5" y="564.6" font-size="8.74" font-weight="bold" stroke="#000" stroke-width="0.35" text-anchor="middle" textLength="5.4" lengthAdjust="spacingAndGlyphs">5</text>
<line x1="174.5" y1="403.5" x2="174.5" y2="545.5" stroke="#000" stroke-width="1.4" stroke-dasharray="1.4,1.1"/>
<line x1="296.2" y1="403.5" x2="296.2" y2="545.5" stroke="#000" stroke-width="1.4" stroke-dasharray="1.4,1.1"/>
<line x1="59.8" y1="570.4" x2="170.0" y2="570.4" stroke="#000" stroke-width="1.7"/>
<line x1="179.8" y1="570.4" x2="290.0" y2="570.4" stroke="#000" stroke-width="1.7"/>
<line x1="303.0" y1="570.4" x2="412.7" y2="570.4" stroke="#000" stroke-width="1.7"/>
<text x="87.5" y="582.8" font-size="9.02" font-weight="bold" stroke="#000" stroke-width="0.35" fill="#000" textLength="52.0" lengthAdjust="spacingAndGlyphs">CLL-B cells</text>
<text x="219.4" y="582.8" font-size="9.02" font-weight="bold" stroke="#000" stroke-width="0.35" fill="#000" textLength="29.6" lengthAdjust="spacingAndGlyphs">T cells</text>
<text x="339.0" y="582.8" font-size="9.02" font-weight="bold" stroke="#000" stroke-width="0.35" fill="#000" textLength="36.6" lengthAdjust="spacingAndGlyphs">NK cells</text>
<text x="170.4" y="600.8" font-size="9.02" font-weight="bold" stroke="#000" stroke-width="0.35" fill="#000" textLength="131.1" lengthAdjust="spacingAndGlyphs">Concentration of IPI-145 (µM)</text>
<path d="M99.3,389.5 V384.3 H343.3 V390" stroke="#000" stroke-width="1.8" fill="none"/>
<path d="M99.3,402.3 V397 H221.4 V402.5" stroke="#000" stroke-width="1.8" fill="none"/>
<text x="154.5" y="381.5" font-size="7.36" font-weight="bold" stroke="#000" stroke-width="0.35" text-anchor="middle" textLength="9.2" lengthAdjust="spacingAndGlyphs">##</text>
<text x="152.0" y="394.5" font-size="7.36" font-weight="bold" stroke="#000" stroke-width="0.35" text-anchor="middle" textLength="4.6" lengthAdjust="spacingAndGlyphs">#</text>
<text x="99.5" y="415.0" font-size="6.90" font-weight="bold" stroke="#000" stroke-width="0.35" text-anchor="middle" textLength="3.0" lengthAdjust="spacingAndGlyphs">*</text>
<text x="220.0" y="416.3" font-size="6.90" font-weight="bold" stroke="#000" stroke-width="0.35" text-anchor="middle" textLength="6.0" lengthAdjust="spacingAndGlyphs">**</text>
<text x="343.0" y="416.3" font-size="6.90" font-weight="bold" stroke="#000" stroke-width="0.35" text-anchor="middle" textLength="9.0" lengthAdjust="spacingAndGlyphs">***</text>
<path d="M67,425.5 V420.6 H130.7 V425.5" stroke="#000" stroke-width="1.8" fill="none"/>
<line x1="100.0" y1="425.5" x2="161.7" y2="425.5" stroke="#000" stroke-width="1.8"/>
<path d="M187.6,425.5 V420.2 H250 V425.5" stroke="#000" stroke-width="1.8" fill="none"/>
<line x1="221.0" y1="425.5" x2="283.7" y2="425.5" stroke="#000" stroke-width="1.8"/>
<path d="M311.2,425.5 V419.6 H373 V425.5" stroke="#000" stroke-width="1.8" fill="none"/>
<line x1="343.7" y1="425.5" x2="405.0" y2="425.5" stroke="#000" stroke-width="1.8"/>
<line x1="62.0" y1="450.7" x2="73.0" y2="450.7" stroke="#000" stroke-width="3.0"/>
<circle cx="86.5" cy="453.7" r="1.95" fill="#000"/>
<circle cx="89.5" cy="477.5" r="1.95" fill="#000"/>
<circle cx="83.0" cy="491.0" r="1.95" fill="#000"/>
<circle cx="89.5" cy="490.0" r="1.95" fill="#000"/>
<circle cx="104.5" cy="455.0" r="1.95" fill="#000"/>
<circle cx="101.5" cy="482.5" r="1.95" fill="#000"/>
<circle cx="108.0" cy="483.0" r="1.95" fill="#000"/>
<circle cx="104.5" cy="492.5" r="1.95" fill="#000"/>
<circle cx="104.5" cy="503.0" r="1.95" fill="#000"/>
<circle cx="104.5" cy="510.7" r="1.95" fill="#000"/>
<circle cx="120.0" cy="456.5" r="1.95" fill="#000"/>
<circle cx="120.0" cy="480.7" r="1.95" fill="#000"/>
<circle cx="128.7" cy="485.7" r="1.95" fill="#000"/>
<circle cx="126.0" cy="489.5" r="1.95" fill="#000"/>
<circle cx="120.0" cy="494.5" r="1.95" fill="#000"/>
<circle cx="122.7" cy="506.2" r="1.95" fill="#000"/>
<circle cx="122.7" cy="540.0" r="1.95" fill="#000"/>
<circle cx="137.0" cy="490.0" r="1.95" fill="#000"/>
<circle cx="141.0" cy="488.0" r="1.95" fill="#000"/>
<circle cx="145.0" cy="489.5" r="1.95" fill="#000"/>
<circle cx="141.0" cy="494.5" r="1.95" fill="#000"/>
<circle cx="156.0" cy="478.7" r="1.95" fill="#000"/>
<circle cx="159.0" cy="485.7" r="1.95" fill="#000"/>
<circle cx="159.0" cy="495.0" r="1.95" fill="#000"/>
<circle cx="159.0" cy="500.7" r="1.95" fill="#000"/>
<circle cx="159.0" cy="516.0" r="1.95" fill="#000"/>
<rect x="84.9" y="464.9" width="3.2" height="3.2" fill="#000"/>
<rect x="124.2" y="449.9" width="3.2" height="3.2" fill="#000"/>
<polygon points="140.8,460.9 142.9,463.0 140.8,465.1 138.7,463.0" fill="#000"/>
<polygon points="141.0,503.9 143.1,506.0 141.0,508.1 138.9,506.0" fill="#000"/>
<rect x="160.9" y="474.4" width="3.2" height="3.2" fill="#000"/>
<line x1="80.0" y1="475.7" x2="92.5" y2="475.7" stroke="#000" stroke-width="1.6"/>
<line x1="98.5" y1="487.5" x2="110.5" y2="487.5" stroke="#000" stroke-width="1.6"/>
<line x1="116.0" y1="487.5" x2="128.0" y2="487.5" stroke="#000" stroke-width="1.6"/>
<line x1="135.0" y1="488.7" x2="146.7" y2="488.7" stroke="#000" stroke-width="1.6"/>
<line x1="153.0" y1="492.0" x2="165.5" y2="492.0" stroke="#000" stroke-width="1.6"/>
<line x1="183.7" y1="450.7" x2="195.7" y2="450.7" stroke="#000" stroke-width="3.0"/>
<rect x="206.2" y="446.8" width="3.7" height="3.7" fill="#000"/>
<rect x="204.2" y="453.1" width="3.7" height="3.7" fill="#000"/>
<rect x="208.3" y="453.1" width="3.7" height="3.7" fill="#000"/>
<rect x="206.2" y="460.6" width="3.7" height="3.7" fill="#000"/>
<rect x="206.2" y="466.8" width="3.7" height="3.7" fill="#000"/>
<rect x="224.2" y="453.1" width="3.7" height="3.7" fill="#000"/>
<rect x="219.2" y="462.1" width="3.7" height="3.7" fill="#000"/>
<rect x="227.2" y="461.1" width="3.7" height="3.7" fill="#000"/>
<rect x="227.2" y="468.1" width="3.7" height="3.7" fill="#000"/>
<rect x="224.2" y="478.8" width="3.7" height="3.7" fill="#000"/>
<rect x="242.2" y="448.8" width="3.7" height="3.7" fill="#000"/>
<rect x="245.7" y="451.8" width="3.7" height="3.7" fill="#000"/>
<rect x="236.8" y="456.1" width="3.7" height="3.7" fill="#000"/>
<rect x="239.8" y="458.1" width="3.7" height="3.7" fill="#000"/>
<rect x="245.7" y="462.6" width="3.7" height="3.7" fill="#000"/>
<rect x="242.2" y="471.1" width="3.7" height="3.7" fill="#000"/>
<rect x="242.2" y="482.6" width="3.7" height="3.7" fill="#000"/>
<rect x="242.2" y="492.1" width="3.7" height="3.7" fill="#000"/>
<rect x="263.8" y="445.6" width="3.7" height="3.7" fill="#000"/>
<rect x="258.1" y="450.1" width="3.7" height="3.7" fill="#000"/>
<rect x="257.1" y="464.1" width="3.7" height="3.7" fill="#000"/>
<rect x="263.8" y="461.1" width="3.7" height="3.7" fill="#000"/>
<rect x="260.6" y="463.8" width="3.7" height="3.7" fill="#000"/>
<rect x="260.6" y="477.1" width="3.7" height="3.7" fill="#000"/>
<rect x="279.1" y="451.1" width="3.7" height="3.7" fill="#000"/>
<rect x="276.1" y="461.8" width="3.7" height="3.7" fill="#000"/>
<rect x="281.8" y="462.1" width="3.7" height="3.7" fill="#000"/>
<rect x="279.1" y="483.6" width="3.7" height="3.7" fill="#000"/>
<line x1="201.7" y1="456.0" x2="213.7" y2="456.0" stroke="#000" stroke-width="1.6"/>
<line x1="219.0" y1="465.7" x2="231.7" y2="465.7" stroke="#000" stroke-width="1.6"/>
<line x1="238.0" y1="466.7" x2="250.7" y2="466.7" stroke="#000" stroke-width="1.6"/>
<line x1="256.0" y1="463.0" x2="268.0" y2="463.0" stroke="#000" stroke-width="1.6"/>
<line x1="275.0" y1="465.7" x2="287.0" y2="465.7" stroke="#000" stroke-width="1.6"/>
<line x1="305.7" y1="451.0" x2="317.5" y2="451.0" stroke="#000" stroke-width="2.4"/>
<polygon points="308.5,448.1 310.4,451.9 306.6,451.9" fill="#000"/>
<polygon points="311.5,448.1 313.4,451.9 309.6,451.9" fill="#000"/>
<polygon points="314.5,448.1 316.4,451.9 312.6,451.9" fill="#000"/>
<polygon points="329.5,428.6 331.4,432.4 327.6,432.4" fill="#000"/>
<polygon points="326.7,450.6 328.6,454.4 324.8,454.4" fill="#000"/>
<polygon points="331.0,453.6 332.9,457.4 329.1,457.4" fill="#000"/>
<polygon points="329.5,485.6 331.4,489.4 327.6,489.4" fill="#000"/>
<polygon points="347.5,444.1 349.4,447.9 345.6,447.9" fill="#000"/>
<polygon points="347.5,468.6 349.4,472.4 345.6,472.4" fill="#000"/>
<polygon points="350.7,476.1 352.6,479.9 348.8,479.9" fill="#000"/>
<polygon points="344.5,484.1 346.4,487.9 342.6,487.9" fill="#000"/>
<polygon points="350.7,482.6 352.6,486.4 348.8,486.4" fill="#000"/>
<polygon points="363.0,449.8 364.9,453.6 361.1,453.6" fill="#000"/>
<polygon points="369.0,445.6 370.9,449.4 367.1,449.4" fill="#000"/>
<polygon points="366.0,458.1 367.9,461.9 364.1,461.9" fill="#000"/>
<polygon points="369.0,468.1 370.9,471.9 367.1,471.9" fill="#000"/>
<polygon points="363.0,471.1 364.9,474.9 361.1,474.9" fill="#000"/>
<polygon points="366.0,477.1 367.9,480.9 364.1,480.9" fill="#000"/>
<polygon points="369.0,483.8 370.9,487.6 367.1,487.6" fill="#000"/>
<polygon points="363.0,486.1 364.9,489.9 361.1,489.9" fill="#000"/>
<polygon points="381.0,438.6 382.9,442.4 379.1,442.4" fill="#000"/>
<polygon points="387.0,441.8 388.9,445.6 385.1,445.6" fill="#000"/>
<polygon points="384.0,456.1 385.9,459.9 382.1,459.9" fill="#000"/>
<polygon points="384.0,463.1 385.9,466.9 382.1,466.9" fill="#000"/>
<polygon points="381.0,475.6 382.9,479.4 379.1,479.4" fill="#000"/>
<polygon points="387.5,475.6 389.4,479.4 385.6,479.4" fill="#000"/>
<polygon points="402.5,449.8 404.4,453.6 400.6,453.6" fill="#000"/>
<polygon points="402.5,465.6 404.4,469.4 400.6,469.4" fill="#000"/>
<polygon points="400.0,479.8 401.9,483.6 398.1,483.6" fill="#000"/>
<polygon points="403.2,479.8 405.1,483.6 401.3,483.6" fill="#000"/>
<polygon points="402.5,499.8 404.4,503.6 400.6,503.6" fill="#000"/>
<line x1="323.0" y1="456.0" x2="335.0" y2="456.0" stroke="#000" stroke-width="1.6"/>
<line x1="341.7" y1="472.5" x2="353.7" y2="472.5" stroke="#000" stroke-width="1.6"/>
<line x1="360.0" y1="468.7" x2="372.0" y2="468.7" stroke="#000" stroke-width="1.6"/>
<line x1="378.0" y1="459.0" x2="390.0" y2="459.0" stroke="#000" stroke-width="1.6"/>
<line x1="396.0" y1="476.7" x2="408.5" y2="476.7" stroke="#000" stroke-width="1.6"/>
</g>
<g id="panelE">
<text x="1.7" y="620.6" font-size="17" font-weight="bold" stroke="#000" stroke-width="0.2">E</text>
<text transform="translate(30.3,680.2) rotate(-90)" font-size="9.0" font-weight="bold" stroke="#000" stroke-width="0.35" text-anchor="middle" textLength="71.6" lengthAdjust="spacingAndGlyphs">percent viability</text>
<line x1="51.8" y1="629.5" x2="51.8" y2="732.0" stroke="#000" stroke-width="2.2"/>
<line x1="49.0" y1="731.0" x2="206.0" y2="731.0" stroke="#000" stroke-width="2.0"/>
<line x1="48.5" y1="731.0" x2="52.0" y2="731.0" stroke="#000" stroke-width="1.7"/>
<text x="47.5" y="734.5" font-size="9.57" font-weight="bold" stroke="#000" stroke-width="0.35" text-anchor="end" textLength="5.5" lengthAdjust="spacingAndGlyphs">0</text>
<line x1="48.5" y1="710.9" x2="52.0" y2="710.9" stroke="#000" stroke-width="1.7"/>
<text x="47.5" y="714.4" font-size="9.57" font-weight="bold" stroke="#000" stroke-width="0.35" text-anchor="end" textLength="10.9" lengthAdjust="spacingAndGlyphs">20</text>
<line x1="48.5" y1="690.8" x2="52.0" y2="690.8" stroke="#000" stroke-width="1.7"/>
<text x="47.5" y="694.3" font-size="9.57" font-weight="bold" stroke="#000" stroke-width="0.35" text-anchor="end" textLength="10.9" lengthAdjust="spacingAndGlyphs">40</text>
<line x1="48.5" y1="670.7" x2="52.0" y2="670.7" stroke="#000" stroke-width="1.7"/>
<text x="47.5" y="674.2" font-size="9.57" font-weight="bold" stroke="#000" stroke-width="0.35" text-anchor="end" textLength="10.9" lengthAdjust="spacingAndGlyphs">60</text>
<line x1="48.5" y1="650.6" x2="52.0" y2="650.6" stroke="#000" stroke-width="1.7"/>
<text x="47.5" y="654.1" font-size="9.57" font-weight="bold" stroke="#000" stroke-width="0.35" text-anchor="end" textLength="10.9" lengthAdjust="spacingAndGlyphs">80</text>
<line x1="48.5" y1="630.5" x2="52.0" y2="630.5" stroke="#000" stroke-width="1.7"/>
<text x="47.5" y="634.0" font-size="9.57" font-weight="bold" stroke="#000" stroke-width="0.35" text-anchor="end" textLength="16.3" lengthAdjust="spacingAndGlyphs">100</text>
<line x1="90.5" y1="731.0" x2="90.5" y2="735.0" stroke="#000" stroke-width="1.7"/>
<text x="90.5" y="750.0" font-size="9.20" font-weight="bold" stroke="#000" stroke-width="0.35" text-anchor="middle" textLength="5.7" lengthAdjust="spacingAndGlyphs">0</text>
<line x1="166.7" y1="731.0" x2="166.7" y2="735.0" stroke="#000" stroke-width="1.7"/>
<text x="166.7" y="750.0" font-size="9.20" font-weight="bold" stroke="#000" stroke-width="0.35" text-anchor="middle" textLength="5.7" lengthAdjust="spacingAndGlyphs">1</text>
<text x="95.0" y="762.5" font-size="9.20" font-weight="bold" stroke="#000" stroke-width="0.35" fill="#000" textLength="67.0" lengthAdjust="spacingAndGlyphs">Normal B cells</text>
<text x="60.0" y="778.6" font-size="9.20" font-weight="bold" stroke="#000" stroke-width="0.35" fill="#000" textLength="136.0" lengthAdjust="spacingAndGlyphs">Concentration of IPI-145 (µM)</text>
<text x="110.0" y="618.0" font-size="9.20" font-weight="bold" stroke="#000" stroke-width="0.35" fill="#000" textLength="37.0" lengthAdjust="spacingAndGlyphs">p=0.172</text>
<line x1="90.5" y1="647.5" x2="166.7" y2="659.5" stroke="#000" stroke-width="2.1"/>
<circle cx="90.5" cy="647.5" r="1.7" fill="#000"/>
<rect x="164.6" y="657.4" width="4.2" height="4.2" fill="#000"/>
<line x1="90.5" y1="655.5" x2="166.7" y2="659.5" stroke="#000" stroke-width="2.1"/>
<circle cx="90.5" cy="655.5" r="1.7" fill="#000"/>
<rect x="164.6" y="657.4" width="4.2" height="4.2" fill="#000"/>
<line x1="90.5" y1="674.0" x2="166.7" y2="680.0" stroke="#000" stroke-width="2.1"/>
<circle cx="90.5" cy="674.0" r="1.7" fill="#000"/>
<rect x="164.6" y="677.9" width="4.2" height="4.2" fill="#000"/>
<text transform="translate(241.5,680.7) rotate(-90)" font-size="9.2" font-weight="bold" stroke="#000" stroke-width="0.35" text-anchor="middle" textLength="121.0" lengthAdjust="spacingAndGlyphs">percent viability normalized</text>
<text transform="translate(251.6,680.3) rotate(-90)" font-size="9.2" font-weight="bold" stroke="#000" stroke-width="0.35" text-anchor="middle" textLength="90.0" lengthAdjust="spacingAndGlyphs">to untreated control</text>
<line x1="272.8" y1="632.2" x2="272.8" y2="731.0" stroke="#000" stroke-width="2.2"/>
<line x1="269.0" y1="730.0" x2="421.0" y2="730.0" stroke="#000" stroke-width="2.0"/>
<line x1="268.5" y1="730.0" x2="272.0" y2="730.0" stroke="#000" stroke-width="1.7"/>
<text x="268.6" y="733.3" font-size="8.83" font-weight="bold" stroke="#000" stroke-width="0.35" text-anchor="end" textLength="4.9" lengthAdjust="spacingAndGlyphs">0</text>
<line x1="268.5" y1="710.6" x2="272.0" y2="710.6" stroke="#000" stroke-width="1.7"/>
<text x="268.6" y="713.9" font-size="8.83" font-weight="bold" stroke="#000" stroke-width="0.35" text-anchor="end" textLength="9.7" lengthAdjust="spacingAndGlyphs">20</text>
<line x1="268.5" y1="691.2" x2="272.0" y2="691.2" stroke="#000" stroke-width="1.7"/>
<text x="268.6" y="694.5" font-size="8.83" font-weight="bold" stroke="#000" stroke-width="0.35" text-anchor="end" textLength="9.7" lengthAdjust="spacingAndGlyphs">40</text>
<line x1="268.5" y1="671.8" x2="272.0" y2="671.8" stroke="#000" stroke-width="1.7"/>
<text x="268.6" y="675.1" font-size="8.83" font-weight="bold" stroke="#000" stroke-width="0.35" text-anchor="end" textLength="9.7" lengthAdjust="spacingAndGlyphs">60</text>
<line x1="268.5" y1="652.4" x2="272.0" y2="652.4" stroke="#000" stroke-width="1.7"/>
<text x="268.6" y="655.7" font-size="8.83" font-weight="bold" stroke="#000" stroke-width="0.35" text-anchor="end" textLength="9.7" lengthAdjust="spacingAndGlyphs">80</text>
<line x1="268.5" y1="633.0" x2="272.0" y2="633.0" stroke="#000" stroke-width="1.7"/>
<text x="268.6" y="636.3" font-size="8.83" font-weight="bold" stroke="#000" stroke-width="0.35" text-anchor="end" textLength="14.6" lengthAdjust="spacingAndGlyphs">100</text>
<line x1="310.7" y1="730.0" x2="310.7" y2="734.0" stroke="#000" stroke-width="1.7"/>
<line x1="384.5" y1="730.0" x2="384.5" y2="734.0" stroke="#000" stroke-width="1.7"/>
<text x="277.0" y="748.7" font-size="9.20" font-weight="bold" stroke="#000" stroke-width="0.35" fill="#000" textLength="65.5" lengthAdjust="spacingAndGlyphs">Normal B cells</text>
<text x="362.0" y="748.7" font-size="9.20" font-weight="bold" stroke="#000" stroke-width="0.35" fill="#000" textLength="42.5" lengthAdjust="spacingAndGlyphs">CLL cells</text>
<text x="332.5" y="616.5" font-size="9.20" font-weight="bold" stroke="#000" stroke-width="0.35" fill="#000" textLength="30.0" lengthAdjust="spacingAndGlyphs">p&lt;0.05</text>
<line x1="286.0" y1="642.5" x2="334.5" y2="642.5" stroke="#000" stroke-width="1.6"/>
<circle cx="310.5" cy="637.0" r="1.9" fill="#000"/>
<circle cx="313.7" cy="642.5" r="1.9" fill="#000"/>
<circle cx="307.0" cy="647.5" r="1.9" fill="#000"/>
<line x1="360.0" y1="660.0" x2="408.7" y2="660.0" stroke="#000" stroke-width="1.6"/>
<rect x="382.1" y="634.1" width="3.8" height="3.8" fill="#000"/>
<rect x="379.1" y="645.1" width="3.8" height="3.8" fill="#000"/>
<rect x="385.6" y="646.1" width="3.8" height="3.8" fill="#000"/>
<rect x="376.1" y="653.1" width="3.8" height="3.8" fill="#000"/>
<rect x="388.1" y="653.8" width="3.8" height="3.8" fill="#000"/>
<rect x="382.1" y="658.6" width="3.8" height="3.8" fill="#000"/>
<rect x="373.1" y="663.6" width="3.8" height="3.8" fill="#000"/>
<rect x="379.1" y="665.6" width="3.8" height="3.8" fill="#000"/>
<rect x="393.8" y="663.6" width="3.8" height="3.8" fill="#000"/>
<rect x="388.1" y="667.6" width="3.8" height="3.8" fill="#000"/>
<rect x="385.1" y="669.1" width="3.8" height="3.8" fill="#000"/>
<rect x="379.1" y="674.1" width="3.8" height="3.8" fill="#000"/>
</g>
<g id="panelF">
<text x="1.5" y="803.5" font-size="17" font-weight="bold" stroke="#000" stroke-width="0.2">F</text>
<text x="72.0" y="803.0" font-size="9.20" font-weight="bold" stroke="#000" stroke-width="0.35" fill="#000" textLength="71.7" lengthAdjust="spacingAndGlyphs">IL-2 production</text>
<text transform="translate(25.1,845.2) rotate(-90)" font-size="9.4" font-weight="bold" stroke="#000" stroke-width="0.35" text-anchor="middle" textLength="58.8" lengthAdjust="spacingAndGlyphs">pg/ml of IL-2</text>
<line x1="53.0" y1="810.5" x2="53.0" y2="884.2" stroke="#000" stroke-width="2.1"/>
<line x1="49.0" y1="883.2" x2="164.0" y2="883.2" stroke="#000" stroke-width="2.0"/>
<line x1="49.3" y1="812.0" x2="53.0" y2="812.0" stroke="#000" stroke-width="1.7"/>
<text x="45.3" y="815.4" font-size="8.83" font-weight="bold" stroke="#000" stroke-width="0.35" text-anchor="end" textLength="16.7" lengthAdjust="spacingAndGlyphs">600</text>
<line x1="49.3" y1="835.7" x2="53.0" y2="835.7" stroke="#000" stroke-width="1.7"/>
<text x="45.3" y="839.1" font-size="8.83" font-weight="bold" stroke="#000" stroke-width="0.35" text-anchor="end" textLength="16.7" lengthAdjust="spacingAndGlyphs">400</text>
<line x1="49.3" y1="859.5" x2="53.0" y2="859.5" stroke="#000" stroke-width="1.7"/>
<text x="45.3" y="862.9" font-size="8.83" font-weight="bold" stroke="#000" stroke-width="0.35" text-anchor="end" textLength="16.7" lengthAdjust="spacingAndGlyphs">200</text>
<line x1="49.3" y1="883.2" x2="53.0" y2="883.2" stroke="#000" stroke-width="1.7"/>
<text x="45.3" y="886.6" font-size="8.83" font-weight="bold" stroke="#000" stroke-width="0.35" text-anchor="end" textLength="5.6" lengthAdjust="spacingAndGlyphs">0</text>
<line x1="60.0" y1="883.2" x2="60.0" y2="887.0" stroke="#000" stroke-width="1.7"/>
<line x1="76.0" y1="883.2" x2="76.0" y2="887.0" stroke="#000" stroke-width="1.7"/>
<line x1="92.0" y1="883.2" x2="92.0" y2="887.0" stroke="#000" stroke-width="1.7"/>
<line x1="107.7" y1="883.2" x2="107.7" y2="887.0" stroke="#000" stroke-width="1.7"/>
<line x1="123.5" y1="883.2" x2="123.5" y2="887.0" stroke="#000" stroke-width="1.7"/>
<line x1="139.5" y1="883.2" x2="139.5" y2="887.0" stroke="#000" stroke-width="1.7"/>
<line x1="155.0" y1="883.2" x2="155.0" y2="887.0" stroke="#000" stroke-width="1.7"/>
<text transform="translate(57.0,898.5) rotate(-45)" font-size="8.92" font-weight="bold" stroke="#000" stroke-width="0.35" text-anchor="end" textLength="12.2" lengthAdjust="spacingAndGlyphs">un</text>
<text transform="translate(67.0,903.5) rotate(-45)" font-size="8.92" font-weight="bold" stroke="#000" stroke-width="0.35" text-anchor="end" textLength="20.5" lengthAdjust="spacingAndGlyphs">stim</text>
<text transform="translate(77.5,897.8) rotate(-45)" font-size="8.92" font-weight="bold" stroke="#000" stroke-width="0.35" text-anchor="end" textLength="5.6" lengthAdjust="spacingAndGlyphs">0</text>
<text transform="translate(93.5,897.8) rotate(-45)" font-size="8.92" font-weight="bold" stroke="#000" stroke-width="0.35" text-anchor="end" textLength="19.4" lengthAdjust="spacingAndGlyphs">0.01</text>
<text transform="translate(109.2,897.8) rotate(-45)" font-size="8.92" font-weight="bold" stroke="#000" stroke-width="0.35" text-anchor="end" textLength="13.9" lengthAdjust="spacingAndGlyphs">0.1</text>
<text transform="translate(125.0,897.8) rotate(-45)" font-size="8.92" font-weight="bold" stroke="#000" stroke-width="0.35" text-anchor="end" textLength="13.9" lengthAdjust="spacingAndGlyphs">0.5</text>
<text transform="translate(141.0,897.8) rotate(-45)" font-size="8.92" font-weight="bold" stroke="#000" stroke-width="0.35" text-anchor="end" textLength="5.6" lengthAdjust="spacingAndGlyphs">1</text>
<text transform="translate(156.5,897.8) rotate(-45)" font-size="8.92" font-weight="bold" stroke="#000" stroke-width="0.35" text-anchor="end" textLength="5.6" lengthAdjust="spacingAndGlyphs">5</text>
<line x1="74.4" y1="911.6" x2="160.0" y2="911.6" stroke="#000" stroke-width="1.6"/>
<text x="65.8" y="927.4" font-size="9.66" font-weight="bold" stroke="#000" stroke-width="0.35" fill="#000" textLength="101.0" lengthAdjust="spacingAndGlyphs">CD3/CD28 stimulated</text>
<text x="30.5" y="945.0" font-size="9.66" font-weight="bold" stroke="#000" stroke-width="0.35" fill="#000" textLength="136.7" lengthAdjust="spacingAndGlyphs">Concentration of IPI-145 (µM)</text>
<text x="125.5" y="850.8" font-size="9.40" stroke="#000" stroke-width="0.6" fill="#000" textLength="32.2" lengthAdjust="spacingAndGlyphs">P&lt;0.05</text>
<line x1="120.8" y1="855.5" x2="157.2" y2="855.5" stroke="#000" stroke-width="1.6"/>
<polygon points="57.5,879.4 59.6,881.5 57.5,883.6 55.4,881.5" fill="#000"/>
<polygon points="62.5,879.2 64.6,881.3 62.5,883.4 60.4,881.3" fill="#000"/>
<polygon points="60.0,881.4 62.1,883.5 60.0,885.6 57.9,883.5" fill="#000"/>
<polygon points="76.0,820.5 78.5,823.0 76.0,825.5 73.5,823.0" fill="#000"/>
<line x1="70.5" y1="865.7" x2="81.5" y2="865.7" stroke="#000" stroke-width="1.5"/>
<polygon points="73.5,863.4 75.8,865.7 73.5,868.0 71.2,865.7" fill="#000"/>
<polygon points="79.0,863.4 81.3,865.7 79.0,868.0 76.7,865.7" fill="#000"/>
<rect x="71.6" y="873.6" width="3.8" height="3.8" fill="#000"/>
<polygon points="78.0,875.3 80.2,877.5 78.0,879.7 75.8,877.5" fill="#000"/>
<polygon points="81.0,873.5 83.2,875.7 81.0,877.9 78.8,875.7" fill="#000"/>
<polygon points="76.0,881.8 77.7,883.5 76.0,885.2 74.3,883.5" fill="#000"/>
<circle cx="92.0" cy="848.7" r="2.1" fill="#000"/>
<circle cx="89.5" cy="861.0" r="2.1" fill="#000"/>
<circle cx="94.5" cy="866.0" r="2.1" fill="#000"/>
<circle cx="94.5" cy="878.7" r="2.1" fill="#000"/>
<circle cx="92.0" cy="883.5" r="2.1" fill="#000"/>
<circle cx="107.7" cy="863.0" r="2.1" fill="#000"/>
<circle cx="104.5" cy="868.0" r="2.1" fill="#000"/>
<circle cx="110.5" cy="873.7" r="2.1" fill="#000"/>
<circle cx="110.5" cy="878.7" r="2.1" fill="#000"/>
<circle cx="107.7" cy="883.5" r="2.1" fill="#000"/>
<circle cx="123.5" cy="870.0" r="2.1" fill="#000"/>
<line x1="86.5" y1="867.0" x2="97.5" y2="867.0" stroke="#000" stroke-width="1.5"/>
<line x1="102.5" y1="873.0" x2="113.0" y2="873.0" stroke="#000" stroke-width="1.5"/>
<line x1="118.0" y1="878.3" x2="129.0" y2="878.3" stroke="#000" stroke-width="1.5"/>
<polygon points="122.0,874.9 124.1,879.1 119.9,879.1" fill="#000"/>
<polygon points="127.0,873.9 129.1,878.1 124.9,878.1" fill="#000"/>
<polygon points="124.5,883.2 126.7,878.8 122.3,878.8" fill="#000"/>
<polygon points="137.0,879.7 139.0,881.7 137.0,883.7 135.0,881.7" fill="#000"/>
<polygon points="142.0,879.7 144.0,881.7 142.0,883.7 140.0,881.7" fill="#000"/>
<polygon points="139.5,881.5 141.5,883.5 139.5,885.5 137.5,883.5" fill="#000"/>
<polygon points="152.5,880.0 154.5,882.0 152.5,884.0 150.5,882.0" fill="#000"/>
<polygon points="157.5,879.7 159.5,881.7 157.5,883.7 155.5,881.7" fill="#000"/>
<polygon points="155.0,881.5 157.0,883.5 155.0,885.5 153.0,883.5" fill="#000"/>
<text x="227.5" y="803.0" font-size="9.20" font-weight="bold" stroke="#000" stroke-width="0.35" fill="#000" textLength="77.5" lengthAdjust="spacingAndGlyphs">TNF-α production</text>
<text transform="translate(180.8,845.4) rotate(-90)" font-size="9.4" font-weight="bold" stroke="#000" stroke-width="0.35" text-anchor="middle" textLength="67.7" lengthAdjust="spacingAndGlyphs">pg/ml of TNF-α</text>
<line x1="212.3" y1="812.5" x2="212.3" y2="884.7" stroke="#000" stroke-width="2.1"/>
<line x1="209.0" y1="883.7" x2="321.0" y2="883.7" stroke="#000" stroke-width="2.0"/>
<line x1="208.5" y1="883.7" x2="212.3" y2="883.7" stroke="#000" stroke-width="1.7"/>
<text x="205.4" y="887.1" font-size="9.38" font-weight="bold" stroke="#000" stroke-width="0.35" text-anchor="end" textLength="5.5" lengthAdjust="spacingAndGlyphs">0</text>
<line x1="208.5" y1="869.6" x2="212.3" y2="869.6" stroke="#000" stroke-width="1.7"/>
<text x="205.4" y="873.0" font-size="9.38" font-weight="bold" stroke="#000" stroke-width="0.35" text-anchor="end" textLength="16.4" lengthAdjust="spacingAndGlyphs">500</text>
<line x1="208.5" y1="855.6" x2="212.3" y2="855.6" stroke="#000" stroke-width="1.7"/>
<text x="205.4" y="859.0" font-size="9.38" font-weight="bold" stroke="#000" stroke-width="0.35" text-anchor="end" textLength="21.9" lengthAdjust="spacingAndGlyphs">1000</text>
<line x1="208.5" y1="841.5" x2="212.3" y2="841.5" stroke="#000" stroke-width="1.7"/>
<text x="205.4" y="844.9" font-size="9.38" font-weight="bold" stroke="#000" stroke-width="0.35" text-anchor="end" textLength="21.9" lengthAdjust="spacingAndGlyphs">1500</text>
<line x1="208.5" y1="827.5" x2="212.3" y2="827.5" stroke="#000" stroke-width="1.7"/>
<text x="205.4" y="830.9" font-size="9.38" font-weight="bold" stroke="#000" stroke-width="0.35" text-anchor="end" textLength="21.9" lengthAdjust="spacingAndGlyphs">2000</text>
<line x1="208.5" y1="813.4" x2="212.3" y2="813.4" stroke="#000" stroke-width="1.7"/>
<text x="205.4" y="816.8" font-size="9.38" font-weight="bold" stroke="#000" stroke-width="0.35" text-anchor="end" textLength="21.9" lengthAdjust="spacingAndGlyphs">2500</text>
<line x1="220.0" y1="883.7" x2="220.0" y2="887.5" stroke="#000" stroke-width="1.7"/>
<line x1="235.7" y1="883.7" x2="235.7" y2="887.5" stroke="#000" stroke-width="1.7"/>
<line x1="251.0" y1="883.7" x2="251.0" y2="887.5" stroke="#000" stroke-width="1.7"/>
<line x1="267.0" y1="883.7" x2="267.0" y2="887.5" stroke="#000" stroke-width="1.7"/>
<line x1="282.5" y1="883.7" x2="282.5" y2="887.5" stroke="#000" stroke-width="1.7"/>
<line x1="297.5" y1="883.7" x2="297.5" y2="887.5" stroke="#000" stroke-width="1.7"/>
<line x1="313.7" y1="883.7" x2="313.7" y2="887.5" stroke="#000" stroke-width="1.7"/>
<text transform="translate(217.0,898.5) rotate(-45)" font-size="8.92" font-weight="bold" stroke="#000" stroke-width="0.35" text-anchor="end" textLength="12.2" lengthAdjust="spacingAndGlyphs">un</text>
<text transform="translate(227.0,903.5) rotate(-45)" font-size="8.92" font-weight="bold" stroke="#000" stroke-width="0.35" text-anchor="end" textLength="20.5" lengthAdjust="spacingAndGlyphs">stim</text>
<text transform="translate(237.2,897.8) rotate(-45)" font-size="8.92" font-weight="bold" stroke="#000" stroke-width="0.35" text-anchor="end" textLength="5.6" lengthAdjust="spacingAndGlyphs">0</text>
<text transform="translate(252.5,897.8) rotate(-45)" font-size="8.92" font-weight="bold" stroke="#000" stroke-width="0.35" text-anchor="end" textLength="19.4" lengthAdjust="spacingAndGlyphs">0.01</text>
<text transform="translate(268.5,897.8) rotate(-45)" font-size="8.92" font-weight="bold" stroke="#000" stroke-width="0.35" text-anchor="end" textLength="13.9" lengthAdjust="spacingAndGlyphs">0.1</text>
<text transform="translate(284.0,897.8) rotate(-45)" font-size="8.92" font-weight="bold" stroke="#000" stroke-width="0.35" text-anchor="end" textLength="13.9" lengthAdjust="spacingAndGlyphs">0.5</text>
<text transform="translate(299.0,897.8) rotate(-45)" font-size="8.92" font-weight="bold" stroke="#000" stroke-width="0.35" text-anchor="end" textLength="5.6" lengthAdjust="spacingAndGlyphs">1</text>
<text transform="translate(315.2,897.8) rotate(-45)" font-size="8.92" font-weight="bold" stroke="#000" stroke-width="0.35" text-anchor="end" textLength="5.6" lengthAdjust="spacingAndGlyphs">5</text>
<line x1="228.8" y1="911.6" x2="318.8" y2="911.6" stroke="#000" stroke-width="1.6"/>
<text x="224.3" y="927.4" font-size="9.20" font-weight="bold" stroke="#000" stroke-width="0.35" fill="#000" textLength="98.0" lengthAdjust="spacingAndGlyphs">CD3/CD28 stimulated</text>
<text x="187.3" y="945.0" font-size="9.20" font-weight="bold" stroke="#000" stroke-width="0.35" fill="#000" textLength="135.0" lengthAdjust="spacingAndGlyphs">Concentration of IPI-145 (µM)</text>
<rect x="215.5" y="880.8" width="4.0" height="4.0" fill="#000"/>
<rect x="220.0" y="880.5" width="4.0" height="4.0" fill="#000"/>
<rect x="233.7" y="817.0" width="4.0" height="4.0" fill="#000"/>
<rect x="233.7" y="853.7" width="4.0" height="4.0" fill="#000"/>
<rect x="233.7" y="863.0" width="4.0" height="4.0" fill="#000"/>
<rect x="233.7" y="869.7" width="4.0" height="4.0" fill="#000"/>
<rect x="231.0" y="880.0" width="4.0" height="4.0" fill="#000"/>
<rect x="236.0" y="880.0" width="4.0" height="4.0" fill="#000"/>
<rect x="249.5" y="836.0" width="4.0" height="4.0" fill="#000"/>
<rect x="249.5" y="860.5" width="4.0" height="4.0" fill="#000"/>
<rect x="247.0" y="870.5" width="4.0" height="4.0" fill="#000"/>
<rect x="252.0" y="873.7" width="4.0" height="4.0" fill="#000"/>
<rect x="249.0" y="880.5" width="4.0" height="4.0" fill="#000"/>
<rect x="262.5" y="857.5" width="4.0" height="4.0" fill="#000"/>
<rect x="268.0" y="857.5" width="4.0" height="4.0" fill="#000"/>
<rect x="262.5" y="876.7" width="4.0" height="4.0" fill="#000"/>
<rect x="268.0" y="876.7" width="4.0" height="4.0" fill="#000"/>
<rect x="265.0" y="881.0" width="4.0" height="4.0" fill="#000"/>
<rect x="280.5" y="860.5" width="4.0" height="4.0" fill="#000"/>
<rect x="280.5" y="875.5" width="4.0" height="4.0" fill="#000"/>
<rect x="278.0" y="880.5" width="4.0" height="4.0" fill="#000"/>
<rect x="283.0" y="880.5" width="4.0" height="4.0" fill="#000"/>
<rect x="280.5" y="882.0" width="4.0" height="4.0" fill="#000"/>
<rect x="295.5" y="863.0" width="4.0" height="4.0" fill="#000"/>
<rect x="293.0" y="880.5" width="4.0" height="4.0" fill="#000"/>
<rect x="298.0" y="880.5" width="4.0" height="4.0" fill="#000"/>
<rect x="311.7" y="867.0" width="4.0" height="4.0" fill="#000"/>
<rect x="309.0" y="880.5" width="4.0" height="4.0" fill="#000"/>
<rect x="314.0" y="880.5" width="4.0" height="4.0" fill="#000"/>
<line x1="230.0" y1="865.0" x2="241.5" y2="865.0" stroke="#000" stroke-width="1.5"/>
<line x1="245.5" y1="866.0" x2="257.0" y2="866.0" stroke="#000" stroke-width="1.5"/>
<line x1="261.0" y1="871.7" x2="272.5" y2="871.7" stroke="#000" stroke-width="1.5"/>
<line x1="276.5" y1="878.7" x2="288.0" y2="878.7" stroke="#000" stroke-width="1.5"/>
<line x1="292.0" y1="878.7" x2="303.0" y2="878.7" stroke="#000" stroke-width="1.5"/>
<line x1="308.0" y1="879.0" x2="319.0" y2="879.0" stroke="#000" stroke-width="1.5"/>
<text x="392.5" y="803.0" font-size="9.20" font-weight="bold" stroke="#000" stroke-width="0.35" fill="#000" textLength="77.5" lengthAdjust="spacingAndGlyphs">IFN-γ production</text>
<text transform="translate(337.2,845.2) rotate(-90)" font-size="9.4" font-weight="bold" stroke="#000" stroke-width="0.35" text-anchor="middle" textLength="63.5" lengthAdjust="spacingAndGlyphs">pg/ml of IFN-γ</text>
<line x1="375.8" y1="812.0" x2="375.8" y2="884.7" stroke="#000" stroke-width="2.1"/>
<line x1="372.5" y1="883.7" x2="483.7" y2="883.7" stroke="#000" stroke-width="2.0"/>
<line x1="371.8" y1="813.0" x2="375.8" y2="813.0" stroke="#000" stroke-width="1.7"/>
<text x="370.3" y="816.3" font-size="9.20" font-weight="bold" stroke="#000" stroke-width="0.35" text-anchor="end" textLength="29.8" lengthAdjust="spacingAndGlyphs">150000</text>
<line x1="371.8" y1="836.6" x2="375.8" y2="836.6" stroke="#000" stroke-width="1.7"/>
<text x="370.3" y="839.9" font-size="9.20" font-weight="bold" stroke="#000" stroke-width="0.35" text-anchor="end" textLength="29.8" lengthAdjust="spacingAndGlyphs">100000</text>
<line x1="371.8" y1="860.1" x2="375.8" y2="860.1" stroke="#000" stroke-width="1.7"/>
<text x="370.3" y="863.4" font-size="9.20" font-weight="bold" stroke="#000" stroke-width="0.35" text-anchor="end" textLength="24.8" lengthAdjust="spacingAndGlyphs">50000</text>
<line x1="371.8" y1="883.7" x2="375.8" y2="883.7" stroke="#000" stroke-width="1.7"/>
<text x="370.3" y="887.0" font-size="9.20" font-weight="bold" stroke="#000" stroke-width="0.35" text-anchor="end" textLength="5.0" lengthAdjust="spacingAndGlyphs">0</text>
<line x1="383.0" y1="883.7" x2="383.0" y2="887.5" stroke="#000" stroke-width="1.7"/>
<line x1="398.7" y1="883.7" x2="398.7" y2="887.5" stroke="#000" stroke-width="1.7"/>
<line x1="414.0" y1="883.7" x2="414.0" y2="887.5" stroke="#000" stroke-width="1.7"/>
<line x1="430.0" y1="883.7" x2="430.0" y2="887.5" stroke="#000" stroke-width="1.7"/>
<line x1="445.5" y1="883.7" x2="445.5" y2="887.5" stroke="#000" stroke-width="1.7"/>
<line x1="461.0" y1="883.7" x2="461.0" y2="887.5" stroke="#000" stroke-width="1.7"/>
<line x1="477.5" y1="883.7" x2="477.5" y2="887.5" stroke="#000" stroke-width="1.7"/>
<text transform="translate(380.0,898.5) rotate(-45)" font-size="8.92" font-weight="bold" stroke="#000" stroke-width="0.35" text-anchor="end" textLength="12.2" lengthAdjust="spacingAndGlyphs">un</text>
<text transform="translate(390.0,903.5) rotate(-45)" font-size="8.92" font-weight="bold" stroke="#000" stroke-width="0.35" text-anchor="end" textLength="20.5" lengthAdjust="spacingAndGlyphs">stim</text>
<text transform="translate(400.2,897.8) rotate(-45)" font-size="8.92" font-weight="bold" stroke="#000" stroke-width="0.35" text-anchor="end" textLength="5.6" lengthAdjust="spacingAndGlyphs">0</text>
<text transform="translate(415.5,897.8) rotate(-45)" font-size="8.92" font-weight="bold" stroke="#000" stroke-width="0.35" text-anchor="end" textLength="19.4" lengthAdjust="spacingAndGlyphs">0.01</text>
<text transform="translate(431.5,897.8) rotate(-45)" font-size="8.92" font-weight="bold" stroke="#000" stroke-width="0.35" text-anchor="end" textLength="13.9" lengthAdjust="spacingAndGlyphs">0.1</text>
<text transform="translate(447.0,897.8) rotate(-45)" font-size="8.92" font-weight="bold" stroke="#000" stroke-width="0.35" text-anchor="end" textLength="13.9" lengthAdjust="spacingAndGlyphs">0.5</text>
<text transform="translate(462.5,897.8) rotate(-45)" font-size="8.92" font-weight="bold" stroke="#000" stroke-width="0.35" text-anchor="end" textLength="5.6" lengthAdjust="spacingAndGlyphs">1</text>
<text transform="translate(479.0,897.8) rotate(-45)" font-size="8.92" font-weight="bold" stroke="#000" stroke-width="0.35" text-anchor="end" textLength="5.6" lengthAdjust="spacingAndGlyphs">5</text>
<line x1="397.0" y1="911.6" x2="480.0" y2="911.6" stroke="#000" stroke-width="1.6"/>
<text x="386.7" y="927.4" font-size="9.20" font-weight="bold" stroke="#000" stroke-width="0.35" fill="#000" textLength="98.7" lengthAdjust="spacingAndGlyphs">CD3/CD28 stimulated</text>
<text x="351.0" y="945.0" font-size="9.20" font-weight="bold" stroke="#000" stroke-width="0.35" fill="#000" textLength="134.4" lengthAdjust="spacingAndGlyphs">Concentration of IPI-145 (µM)</text>
<polygon points="380.5,880.7 382.6,884.9 378.4,884.9" fill="#000"/>
<polygon points="385.5,880.7 387.6,884.9 383.4,884.9" fill="#000"/>
<polygon points="398.7,821.6 400.8,825.8 396.6,825.8" fill="#000"/>
<polygon points="398.7,837.4 400.8,841.6 396.6,841.6" fill="#000"/>
<polygon points="396.0,874.6 398.1,878.8 393.9,878.8" fill="#000"/>
<polygon points="401.5,874.6 403.6,878.8 399.4,878.8" fill="#000"/>
<polygon points="398.7,880.4 400.8,884.6 396.6,884.6" fill="#000"/>
<polygon points="414.0,831.6 416.1,835.8 411.9,835.8" fill="#000"/>
<polygon points="414.0,865.4 416.1,869.6 411.9,869.6" fill="#000"/>
<polygon points="411.5,875.9 413.6,880.1 409.4,880.1" fill="#000"/>
<polygon points="417.0,876.9 419.1,881.1 414.9,881.1" fill="#000"/>
<polygon points="414.0,880.9 416.1,885.1 411.9,885.1" fill="#000"/>
<polygon points="430.0,851.9 432.1,856.1 427.9,856.1" fill="#000"/>
<polygon points="427.5,875.9 429.6,880.1 425.4,880.1" fill="#000"/>
<polygon points="432.5,876.9 434.6,881.1 430.4,881.1" fill="#000"/>
<polygon points="430.0,880.9 432.1,885.1 427.9,885.1" fill="#000"/>
<polygon points="443.0,876.9 445.1,881.1 440.9,881.1" fill="#000"/>
<polygon points="448.0,875.4 450.1,879.6 445.9,879.6" fill="#000"/>
<polygon points="445.5,879.9 447.6,884.1 443.4,884.1" fill="#000"/>
<polygon points="443.0,880.9 445.1,885.1 440.9,885.1" fill="#000"/>
<polygon points="448.0,880.9 450.1,885.1 445.9,885.1" fill="#000"/>
<polygon points="464.0,876.6 466.1,880.8 461.9,880.8" fill="#000"/>
<polygon points="459.0,880.9 461.1,885.1 456.9,885.1" fill="#000"/>
<polygon points="463.0,880.9 465.1,885.1 460.9,885.1" fill="#000"/>
<polygon points="479.5,876.9 481.6,881.1 477.4,881.1" fill="#000"/>
<polygon points="475.0,880.9 477.1,885.1 472.9,885.1" fill="#000"/>
<polygon points="480.0,880.9 482.1,885.1 477.9,885.1" fill="#000"/>
<line x1="378.7" y1="883.9" x2="387.5" y2="883.9" stroke="#000" stroke-width="3.2"/>
<line x1="455.5" y1="883.9" x2="466.0" y2="883.9" stroke="#000" stroke-width="3.0"/>
<line x1="472.5" y1="883.9" x2="481.5" y2="883.9" stroke="#000" stroke-width="3.0"/>
<line x1="440.5" y1="883.5" x2="450.0" y2="883.5" stroke="#000" stroke-width="3.0"/>
<line x1="393.0" y1="867.0" x2="404.0" y2="867.0" stroke="#000" stroke-width="1.5"/>
<line x1="408.5" y1="868.0" x2="420.0" y2="868.0" stroke="#000" stroke-width="1.5"/>
<line x1="424.0" y1="875.0" x2="435.5" y2="875.0" stroke="#000" stroke-width="1.5"/>
</g>
</svg>
</body>
</html>
